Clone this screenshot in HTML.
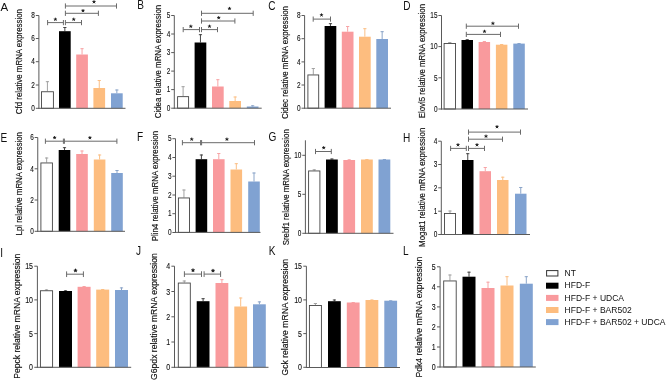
<!DOCTYPE html>
<html><head><meta charset="utf-8"><style>
html,body{margin:0;padding:0;background:#fff;}
body{width:669px;height:380px;overflow:hidden;}
svg{display:block;will-change:transform;}
text{font-family:"Liberation Sans",sans-serif;fill:#111111;}
.tk{font-size:8.5px;text-anchor:end;stroke:#111;stroke-width:0.12px;}
.yl{font-size:7.9px;stroke:#111;stroke-width:0.16px;}
.let{font-size:11.5px;}
.let.b{font-weight:bold;}
.let2{font-size:12.6px;}
.lg{font-size:8.8px;}
.st{font-size:7px;text-anchor:middle;font-weight:bold;}
</style></head><body>
<svg width="669" height="380" viewBox="0 0 669 380">
<text x="0.6" y="11.3" class="let">A</text>
<text class="yl" style="font-size:8.4px" transform="translate(22 114.2) rotate(-90) scale(0.94 1)">Cfd relative mRNA expression</text>
<line x1="47.42" y1="91.3" x2="47.42" y2="81.2" stroke="#a2a2a2" stroke-width="1"/>
<line x1="45.82" y1="81.7" x2="49.02" y2="81.7" stroke="#a2a2a2" stroke-width="1"/>
<rect x="41.45" y="91.75" width="11.95" height="16.55" fill="#fff" stroke="#444" stroke-width="0.9"/>
<line x1="64.85" y1="31.2" x2="64.85" y2="27" stroke="#444444" stroke-width="1"/>
<line x1="63.25" y1="27.5" x2="66.45" y2="27.5" stroke="#444444" stroke-width="1"/>
<rect x="59" y="31.2" width="11.7" height="77.1" fill="#000000"/>
<line x1="82.05" y1="54.5" x2="82.05" y2="48.2" stroke="#f7a4a6" stroke-width="1"/>
<line x1="80.45" y1="48.7" x2="83.65" y2="48.7" stroke="#f7a4a6" stroke-width="1"/>
<rect x="76.2" y="54.5" width="11.7" height="53.8" fill="#f99a9d"/>
<line x1="99.25" y1="88" x2="99.25" y2="80" stroke="#fbbf85" stroke-width="1"/>
<line x1="97.65" y1="80.5" x2="100.85" y2="80.5" stroke="#fbbf85" stroke-width="1"/>
<rect x="93.4" y="88" width="11.7" height="20.3" fill="#fdbd7f"/>
<line x1="116.85" y1="93.3" x2="116.85" y2="89.5" stroke="#8aa4c8" stroke-width="1"/>
<line x1="115.25" y1="90" x2="118.45" y2="90" stroke="#8aa4c8" stroke-width="1"/>
<rect x="111" y="93.3" width="11.7" height="15" fill="#80a2d2"/>
<line x1="38.9" y1="15.5" x2="38.9" y2="108.8" stroke="#5a5a5a" stroke-width="1"/>
<line x1="38.4" y1="108.3" x2="125.5" y2="108.3" stroke="#5a5a5a" stroke-width="1"/>
<line x1="35.8" y1="15.5" x2="38.9" y2="15.5" stroke="#5a5a5a" stroke-width="1"/>
<text class="tk" style="font-size:8.5px" transform="translate(34.9 18.24) scale(0.76 1)">8</text>
<line x1="35.8" y1="38.5" x2="38.9" y2="38.5" stroke="#5a5a5a" stroke-width="1"/>
<text class="tk" style="font-size:8.5px" transform="translate(34.9 41.24) scale(0.76 1)">6</text>
<line x1="35.8" y1="61.7" x2="38.9" y2="61.7" stroke="#5a5a5a" stroke-width="1"/>
<text class="tk" style="font-size:8.5px" transform="translate(34.9 64.44) scale(0.76 1)">4</text>
<line x1="35.8" y1="85" x2="38.9" y2="85" stroke="#5a5a5a" stroke-width="1"/>
<text class="tk" style="font-size:8.5px" transform="translate(34.9 87.74) scale(0.76 1)">2</text>
<line x1="35.8" y1="108.3" x2="38.9" y2="108.3" stroke="#5a5a5a" stroke-width="1"/>
<text class="tk" style="font-size:8.5px" transform="translate(34.9 111.04) scale(0.76 1)">0</text>
<path d="M47.6 20V25.2M47.6 22.6H63.4M63.4 20V25.2" stroke="#6a6a6a" stroke-width="1" fill="none"/>
<path d="M55.4 19.4L55.4 18.1M55.4 19.4L56.64 19M55.4 19.4L56.16 20.45M55.4 19.4L54.64 20.45M55.4 19.4L54.16 19" stroke="#1a1a1a" stroke-width="0.95" stroke-linecap="round" fill="none"/>
<path d="M65.4 20V25.2M65.4 22.6H81.5M81.5 20V25.2" stroke="#6a6a6a" stroke-width="1" fill="none"/>
<path d="M73.7 19.4L73.7 18.1M73.7 19.4L74.94 19M73.7 19.4L74.46 20.45M73.7 19.4L72.94 20.45M73.7 19.4L72.46 19" stroke="#1a1a1a" stroke-width="0.95" stroke-linecap="round" fill="none"/>
<path d="M65.4 10.7V15.9M65.4 13.3H98.4M98.4 10.7V15.9" stroke="#6a6a6a" stroke-width="1" fill="none"/>
<path d="M83 10.7L83 9.4M83 10.7L84.24 10.3M83 10.7L83.76 11.75M83 10.7L82.24 11.75M83 10.7L81.76 10.3" stroke="#1a1a1a" stroke-width="0.95" stroke-linecap="round" fill="none"/>
<path d="M65.4 3.4V8.6M65.4 6H116.5M116.5 3.4V8.6" stroke="#6a6a6a" stroke-width="1" fill="none"/>
<path d="M94 1.9L94 0.6M94 1.9L95.24 1.5M94 1.9L94.76 2.95M94 1.9L93.24 2.95M94 1.9L92.76 1.5" stroke="#1a1a1a" stroke-width="0.95" stroke-linecap="round" fill="none"/>
<text class="let2" transform="translate(137.2 9.4) scale(0.8 1)">B</text>
<text class="yl" style="font-size:8.4px" transform="translate(161.2 118.3) rotate(-90) scale(0.94 1)">Cidea relative mRNA expression</text>
<line x1="183.1" y1="96.2" x2="183.1" y2="86.2" stroke="#a2a2a2" stroke-width="1"/>
<line x1="181.5" y1="86.7" x2="184.7" y2="86.7" stroke="#a2a2a2" stroke-width="1"/>
<rect x="177.6" y="96.65" width="11" height="11.55" fill="#fff" stroke="#444" stroke-width="0.9"/>
<line x1="200.45" y1="42.5" x2="200.45" y2="34.2" stroke="#444444" stroke-width="1"/>
<line x1="198.85" y1="34.7" x2="202.05" y2="34.7" stroke="#444444" stroke-width="1"/>
<rect x="194.6" y="42.5" width="11.7" height="65.7" fill="#000000"/>
<line x1="217.85" y1="86.5" x2="217.85" y2="79.2" stroke="#f7a4a6" stroke-width="1"/>
<line x1="216.25" y1="79.7" x2="219.45" y2="79.7" stroke="#f7a4a6" stroke-width="1"/>
<rect x="212" y="86.5" width="11.7" height="21.7" fill="#f99a9d"/>
<line x1="235.15" y1="101" x2="235.15" y2="96.5" stroke="#fbbf85" stroke-width="1"/>
<line x1="233.55" y1="97" x2="236.75" y2="97" stroke="#fbbf85" stroke-width="1"/>
<rect x="229.3" y="101" width="11.7" height="7.2" fill="#fdbd7f"/>
<line x1="252.65" y1="106.5" x2="252.65" y2="105.3" stroke="#8aa4c8" stroke-width="1"/>
<line x1="251.05" y1="105.8" x2="254.25" y2="105.8" stroke="#8aa4c8" stroke-width="1"/>
<rect x="246.8" y="106.5" width="11.7" height="1.7" fill="#80a2d2"/>
<line x1="174.3" y1="15.5" x2="174.3" y2="108.7" stroke="#5a5a5a" stroke-width="1"/>
<line x1="173.8" y1="108.2" x2="261.7" y2="108.2" stroke="#5a5a5a" stroke-width="1"/>
<line x1="171.2" y1="15.5" x2="174.3" y2="15.5" stroke="#5a5a5a" stroke-width="1"/>
<text class="tk" style="font-size:8.5px" transform="translate(170.3 18.24) scale(0.76 1)">5</text>
<line x1="171.2" y1="34" x2="174.3" y2="34" stroke="#5a5a5a" stroke-width="1"/>
<text class="tk" style="font-size:8.5px" transform="translate(170.3 36.74) scale(0.76 1)">4</text>
<line x1="171.2" y1="52.6" x2="174.3" y2="52.6" stroke="#5a5a5a" stroke-width="1"/>
<text class="tk" style="font-size:8.5px" transform="translate(170.3 55.34) scale(0.76 1)">3</text>
<line x1="171.2" y1="71.1" x2="174.3" y2="71.1" stroke="#5a5a5a" stroke-width="1"/>
<text class="tk" style="font-size:8.5px" transform="translate(170.3 73.84) scale(0.76 1)">2</text>
<line x1="171.2" y1="89.6" x2="174.3" y2="89.6" stroke="#5a5a5a" stroke-width="1"/>
<text class="tk" style="font-size:8.5px" transform="translate(170.3 92.34) scale(0.76 1)">1</text>
<line x1="171.2" y1="108.2" x2="174.3" y2="108.2" stroke="#5a5a5a" stroke-width="1"/>
<text class="tk" style="font-size:8.5px" transform="translate(170.3 110.94) scale(0.76 1)">0</text>
<path d="M183.2 27V32.2M183.2 29.6H199.5M199.5 27V32.2" stroke="#6a6a6a" stroke-width="1" fill="none"/>
<path d="M190.8 26.4L190.8 25.1M190.8 26.4L192.04 26M190.8 26.4L191.56 27.45M190.8 26.4L190.04 27.45M190.8 26.4L189.56 26" stroke="#1a1a1a" stroke-width="0.95" stroke-linecap="round" fill="none"/>
<path d="M201.5 27V32.2M201.5 29.6H217.5M217.5 27V32.2" stroke="#6a6a6a" stroke-width="1" fill="none"/>
<path d="M209.5 26.4L209.5 25.1M209.5 26.4L210.74 26M209.5 26.4L210.26 27.45M209.5 26.4L208.74 27.45M209.5 26.4L208.26 26" stroke="#1a1a1a" stroke-width="0.95" stroke-linecap="round" fill="none"/>
<path d="M201.5 18.4V23.6M201.5 21H234.9M234.9 18.4V23.6" stroke="#6a6a6a" stroke-width="1" fill="none"/>
<path d="M218.7 17.8L218.7 16.5M218.7 17.8L219.94 17.4M218.7 17.8L219.46 18.85M218.7 17.8L217.94 18.85M218.7 17.8L217.46 17.4" stroke="#1a1a1a" stroke-width="0.95" stroke-linecap="round" fill="none"/>
<path d="M201.5 10.7V15.9M201.5 13.3H253.2M253.2 10.7V15.9" stroke="#6a6a6a" stroke-width="1" fill="none"/>
<path d="M229.5 8.6L229.5 7.3M229.5 8.6L230.74 8.2M229.5 8.6L230.26 9.65M229.5 8.6L228.74 9.65M229.5 8.6L228.26 8.2" stroke="#1a1a1a" stroke-width="0.95" stroke-linecap="round" fill="none"/>
<text class="let2" transform="translate(268.2 10.4) scale(0.8 1)">C</text>
<text class="yl" style="font-size:8.4px" transform="translate(287.6 119.1) rotate(-90) scale(0.94 1)">Cidec relative mRNA expression</text>
<line x1="313.3" y1="74.5" x2="313.3" y2="68" stroke="#a2a2a2" stroke-width="1"/>
<line x1="311.7" y1="68.5" x2="314.9" y2="68.5" stroke="#a2a2a2" stroke-width="1"/>
<rect x="307.9" y="74.95" width="10.8" height="33.25" fill="#fff" stroke="#444" stroke-width="0.9"/>
<line x1="330.45" y1="26" x2="330.45" y2="23.2" stroke="#444444" stroke-width="1"/>
<line x1="328.85" y1="23.7" x2="332.05" y2="23.7" stroke="#444444" stroke-width="1"/>
<rect x="324.6" y="26" width="11.7" height="82.2" fill="#000000"/>
<line x1="347.65" y1="31.7" x2="347.65" y2="26" stroke="#f7a4a6" stroke-width="1"/>
<line x1="346.05" y1="26.5" x2="349.25" y2="26.5" stroke="#f7a4a6" stroke-width="1"/>
<rect x="341.8" y="31.7" width="11.7" height="76.5" fill="#f99a9d"/>
<line x1="364.85" y1="36.7" x2="364.85" y2="28.2" stroke="#fbbf85" stroke-width="1"/>
<line x1="363.25" y1="28.7" x2="366.45" y2="28.7" stroke="#fbbf85" stroke-width="1"/>
<rect x="359" y="36.7" width="11.7" height="71.5" fill="#fdbd7f"/>
<line x1="382.15" y1="39" x2="382.15" y2="31.2" stroke="#8aa4c8" stroke-width="1"/>
<line x1="380.55" y1="31.7" x2="383.75" y2="31.7" stroke="#8aa4c8" stroke-width="1"/>
<rect x="376.3" y="39" width="11.7" height="69.2" fill="#80a2d2"/>
<line x1="304.6" y1="15.5" x2="304.6" y2="108.7" stroke="#5a5a5a" stroke-width="1"/>
<line x1="304.1" y1="108.2" x2="391" y2="108.2" stroke="#5a5a5a" stroke-width="1"/>
<line x1="301.5" y1="15.5" x2="304.6" y2="15.5" stroke="#5a5a5a" stroke-width="1"/>
<text class="tk" style="font-size:8.5px" transform="translate(300.6 18.24) scale(0.76 1)">8</text>
<line x1="301.5" y1="38.7" x2="304.6" y2="38.7" stroke="#5a5a5a" stroke-width="1"/>
<text class="tk" style="font-size:8.5px" transform="translate(300.6 41.44) scale(0.76 1)">6</text>
<line x1="301.5" y1="61.9" x2="304.6" y2="61.9" stroke="#5a5a5a" stroke-width="1"/>
<text class="tk" style="font-size:8.5px" transform="translate(300.6 64.64) scale(0.76 1)">4</text>
<line x1="301.5" y1="85" x2="304.6" y2="85" stroke="#5a5a5a" stroke-width="1"/>
<text class="tk" style="font-size:8.5px" transform="translate(300.6 87.74) scale(0.76 1)">2</text>
<line x1="301.5" y1="108.2" x2="304.6" y2="108.2" stroke="#5a5a5a" stroke-width="1"/>
<text class="tk" style="font-size:8.5px" transform="translate(300.6 110.94) scale(0.76 1)">0</text>
<path d="M313.2 16.5V21.7M313.2 19.1H330.5M330.5 16.5V21.7" stroke="#6a6a6a" stroke-width="1" fill="none"/>
<path d="M321.5 15.1L321.5 13.8M321.5 15.1L322.74 14.7M321.5 15.1L322.26 16.15M321.5 15.1L320.74 16.15M321.5 15.1L320.26 14.7" stroke="#1a1a1a" stroke-width="0.95" stroke-linecap="round" fill="none"/>
<text class="let2" transform="translate(403.2 9.7) scale(0.8 1)">D</text>
<text class="yl" style="font-size:8.4px" transform="translate(424.8 118.3) rotate(-90) scale(0.94 1)">Elovl5 relative mRNA expression</text>
<line x1="449.8" y1="43" x2="449.8" y2="42" stroke="#a2a2a2" stroke-width="1"/>
<line x1="448.2" y1="42.5" x2="451.4" y2="42.5" stroke="#a2a2a2" stroke-width="1"/>
<rect x="444.1" y="43.45" width="11.4" height="65.55" fill="#fff" stroke="#444" stroke-width="0.9"/>
<line x1="467.25" y1="40" x2="467.25" y2="39.2" stroke="#444444" stroke-width="1"/>
<line x1="465.65" y1="39.7" x2="468.85" y2="39.7" stroke="#444444" stroke-width="1"/>
<rect x="461.5" y="40" width="11.5" height="69" fill="#000000"/>
<line x1="484.35" y1="42" x2="484.35" y2="41" stroke="#f7a4a6" stroke-width="1"/>
<line x1="482.75" y1="41.5" x2="485.95" y2="41.5" stroke="#f7a4a6" stroke-width="1"/>
<rect x="478.6" y="42" width="11.5" height="67" fill="#f99a9d"/>
<line x1="501.65" y1="44.7" x2="501.65" y2="44" stroke="#fbbf85" stroke-width="1"/>
<line x1="500.05" y1="44.5" x2="503.25" y2="44.5" stroke="#fbbf85" stroke-width="1"/>
<rect x="495.9" y="44.7" width="11.5" height="64.3" fill="#fdbd7f"/>
<line x1="519.05" y1="43.6" x2="519.05" y2="43" stroke="#8aa4c8" stroke-width="1"/>
<line x1="517.45" y1="43.5" x2="520.65" y2="43.5" stroke="#8aa4c8" stroke-width="1"/>
<rect x="513.3" y="43.6" width="11.5" height="65.4" fill="#80a2d2"/>
<line x1="441.5" y1="15.5" x2="441.5" y2="109.5" stroke="#5a5a5a" stroke-width="1"/>
<line x1="441" y1="109" x2="528" y2="109" stroke="#5a5a5a" stroke-width="1"/>
<line x1="438.4" y1="15.5" x2="441.5" y2="15.5" stroke="#5a5a5a" stroke-width="1"/>
<text class="tk" style="font-size:8.5px" transform="translate(437.5 18.24) scale(0.76 1)">15</text>
<line x1="438.4" y1="46.6" x2="441.5" y2="46.6" stroke="#5a5a5a" stroke-width="1"/>
<text class="tk" style="font-size:8.5px" transform="translate(437.5 49.34) scale(0.76 1)">10</text>
<line x1="438.4" y1="77.8" x2="441.5" y2="77.8" stroke="#5a5a5a" stroke-width="1"/>
<text class="tk" style="font-size:8.5px" transform="translate(437.5 80.54) scale(0.76 1)">5</text>
<line x1="438.4" y1="109" x2="441.5" y2="109" stroke="#5a5a5a" stroke-width="1"/>
<text class="tk" style="font-size:8.5px" transform="translate(437.5 111.74) scale(0.76 1)">0</text>
<path d="M466.3 31.8V37M466.3 34.4H500.5M500.5 31.8V37" stroke="#6a6a6a" stroke-width="1" fill="none"/>
<path d="M484.5 31.5L484.5 30.2M484.5 31.5L485.74 31.1M484.5 31.5L485.26 32.55M484.5 31.5L483.74 32.55M484.5 31.5L483.26 31.1" stroke="#1a1a1a" stroke-width="0.95" stroke-linecap="round" fill="none"/>
<path d="M466.3 23.6V28.8M466.3 26.2H518.5M518.5 23.6V28.8" stroke="#6a6a6a" stroke-width="1" fill="none"/>
<path d="M492.9 23.4L492.9 22.1M492.9 23.4L494.14 23M492.9 23.4L493.66 24.45M492.9 23.4L492.14 24.45M492.9 23.4L491.66 23" stroke="#1a1a1a" stroke-width="0.95" stroke-linecap="round" fill="none"/>
<text class="let2" transform="translate(0.6 142.4) scale(0.8 1)">E</text>
<text class="yl" style="font-size:8.4px" transform="translate(21.8 235.5) rotate(-90) scale(0.94 1)">Lpl relative mRNA expression</text>
<line x1="46.65" y1="162.5" x2="46.65" y2="157.5" stroke="#a2a2a2" stroke-width="1"/>
<line x1="45.05" y1="158" x2="48.25" y2="158" stroke="#a2a2a2" stroke-width="1"/>
<rect x="40.9" y="162.95" width="11.5" height="68.35" fill="#fff" stroke="#444" stroke-width="0.9"/>
<line x1="64.5" y1="150" x2="64.5" y2="147.2" stroke="#444444" stroke-width="1"/>
<line x1="62.9" y1="147.7" x2="66.1" y2="147.7" stroke="#444444" stroke-width="1"/>
<rect x="58.7" y="150" width="11.6" height="81.3" fill="#000000"/>
<line x1="82" y1="154" x2="82" y2="150.5" stroke="#f7a4a6" stroke-width="1"/>
<line x1="80.4" y1="151" x2="83.6" y2="151" stroke="#f7a4a6" stroke-width="1"/>
<rect x="76.2" y="154" width="11.6" height="77.3" fill="#f99a9d"/>
<line x1="99.6" y1="159.5" x2="99.6" y2="154.5" stroke="#fbbf85" stroke-width="1"/>
<line x1="98" y1="155" x2="101.2" y2="155" stroke="#fbbf85" stroke-width="1"/>
<rect x="93.8" y="159.5" width="11.6" height="71.8" fill="#fdbd7f"/>
<line x1="117" y1="173" x2="117" y2="170" stroke="#8aa4c8" stroke-width="1"/>
<line x1="115.4" y1="170.5" x2="118.6" y2="170.5" stroke="#8aa4c8" stroke-width="1"/>
<rect x="111.2" y="173" width="11.6" height="58.3" fill="#80a2d2"/>
<line x1="37.75" y1="137.5" x2="37.75" y2="231.8" stroke="#5a5a5a" stroke-width="1"/>
<line x1="37.25" y1="231.3" x2="125" y2="231.3" stroke="#5a5a5a" stroke-width="1"/>
<line x1="34.65" y1="137.5" x2="37.75" y2="137.5" stroke="#5a5a5a" stroke-width="1"/>
<text class="tk" style="font-size:8.5px" transform="translate(33.75 140.24) scale(0.76 1)">6</text>
<line x1="34.65" y1="168.8" x2="37.75" y2="168.8" stroke="#5a5a5a" stroke-width="1"/>
<text class="tk" style="font-size:8.5px" transform="translate(33.75 171.54) scale(0.76 1)">4</text>
<line x1="34.65" y1="200" x2="37.75" y2="200" stroke="#5a5a5a" stroke-width="1"/>
<text class="tk" style="font-size:8.5px" transform="translate(33.75 202.74) scale(0.76 1)">2</text>
<line x1="34.65" y1="231.3" x2="37.75" y2="231.3" stroke="#5a5a5a" stroke-width="1"/>
<text class="tk" style="font-size:8.5px" transform="translate(33.75 234.04) scale(0.76 1)">0</text>
<path d="M45.4 138.6V143.8M45.4 141.2H63.4M63.4 138.6V143.8" stroke="#6a6a6a" stroke-width="1" fill="none"/>
<path d="M54.6 137.7L54.6 136.4M54.6 137.7L55.84 137.3M54.6 137.7L55.36 138.75M54.6 137.7L53.84 138.75M54.6 137.7L53.36 137.3" stroke="#1a1a1a" stroke-width="0.95" stroke-linecap="round" fill="none"/>
<path d="M64.4 138.6V143.8M64.4 141.2H116.9M116.9 138.6V143.8" stroke="#6a6a6a" stroke-width="1" fill="none"/>
<path d="M89.9 137.8L89.9 136.5M89.9 137.8L91.14 137.4M89.9 137.8L90.66 138.85M89.9 137.8L89.14 138.85M89.9 137.8L88.66 137.4" stroke="#1a1a1a" stroke-width="0.95" stroke-linecap="round" fill="none"/>
<text class="let2" transform="translate(136.9 140.6) scale(0.8 1)">F</text>
<text class="yl" style="font-size:8.4px" transform="translate(158 241.3) rotate(-90) scale(0.94 1)">Plin4 relative mRNA expression</text>
<line x1="183.95" y1="197.5" x2="183.95" y2="189.5" stroke="#a2a2a2" stroke-width="1"/>
<line x1="182.35" y1="190" x2="185.55" y2="190" stroke="#a2a2a2" stroke-width="1"/>
<rect x="178.4" y="197.95" width="11.1" height="34.45" fill="#fff" stroke="#444" stroke-width="0.9"/>
<line x1="201.4" y1="159.2" x2="201.4" y2="154.5" stroke="#444444" stroke-width="1"/>
<line x1="199.8" y1="155" x2="203" y2="155" stroke="#444444" stroke-width="1"/>
<rect x="195.6" y="159.2" width="11.6" height="73.2" fill="#000000"/>
<line x1="218.8" y1="159.2" x2="218.8" y2="153" stroke="#f7a4a6" stroke-width="1"/>
<line x1="217.2" y1="153.5" x2="220.4" y2="153.5" stroke="#f7a4a6" stroke-width="1"/>
<rect x="213" y="159.2" width="11.6" height="73.2" fill="#f99a9d"/>
<line x1="236.3" y1="169.5" x2="236.3" y2="163.2" stroke="#fbbf85" stroke-width="1"/>
<line x1="234.7" y1="163.7" x2="237.9" y2="163.7" stroke="#fbbf85" stroke-width="1"/>
<rect x="230.5" y="169.5" width="11.6" height="62.9" fill="#fdbd7f"/>
<line x1="254" y1="181.5" x2="254" y2="172.5" stroke="#8aa4c8" stroke-width="1"/>
<line x1="252.4" y1="173" x2="255.6" y2="173" stroke="#8aa4c8" stroke-width="1"/>
<rect x="248.2" y="181.5" width="11.6" height="50.9" fill="#80a2d2"/>
<line x1="175.5" y1="138.7" x2="175.5" y2="232.9" stroke="#5a5a5a" stroke-width="1"/>
<line x1="175" y1="232.4" x2="260.5" y2="232.4" stroke="#5a5a5a" stroke-width="1"/>
<line x1="172.4" y1="138.7" x2="175.5" y2="138.7" stroke="#5a5a5a" stroke-width="1"/>
<text class="tk" style="font-size:8.5px" transform="translate(171.5 141.44) scale(0.76 1)">5</text>
<line x1="172.4" y1="157.5" x2="175.5" y2="157.5" stroke="#5a5a5a" stroke-width="1"/>
<text class="tk" style="font-size:8.5px" transform="translate(171.5 160.24) scale(0.76 1)">4</text>
<line x1="172.4" y1="176.2" x2="175.5" y2="176.2" stroke="#5a5a5a" stroke-width="1"/>
<text class="tk" style="font-size:8.5px" transform="translate(171.5 178.94) scale(0.76 1)">3</text>
<line x1="172.4" y1="195" x2="175.5" y2="195" stroke="#5a5a5a" stroke-width="1"/>
<text class="tk" style="font-size:8.5px" transform="translate(171.5 197.74) scale(0.76 1)">2</text>
<line x1="172.4" y1="213.7" x2="175.5" y2="213.7" stroke="#5a5a5a" stroke-width="1"/>
<text class="tk" style="font-size:8.5px" transform="translate(171.5 216.44) scale(0.76 1)">1</text>
<line x1="172.4" y1="232.5" x2="175.5" y2="232.5" stroke="#5a5a5a" stroke-width="1"/>
<text class="tk" style="font-size:8.5px" transform="translate(171.5 235.24) scale(0.76 1)">0</text>
<path d="M182.4 140.1V145.3M182.4 142.7H200.6M200.6 140.1V145.3" stroke="#6a6a6a" stroke-width="1" fill="none"/>
<path d="M191.7 139.3L191.7 138M191.7 139.3L192.94 138.9M191.7 139.3L192.46 140.35M191.7 139.3L190.94 140.35M191.7 139.3L190.46 138.9" stroke="#1a1a1a" stroke-width="0.95" stroke-linecap="round" fill="none"/>
<path d="M201.6 140.1V145.3M201.6 142.7H254.5M254.5 140.1V145.3" stroke="#6a6a6a" stroke-width="1" fill="none"/>
<path d="M226.9 139.3L226.9 138M226.9 139.3L228.14 138.9M226.9 139.3L227.66 140.35M226.9 139.3L226.14 140.35M226.9 139.3L225.66 138.9" stroke="#1a1a1a" stroke-width="0.95" stroke-linecap="round" fill="none"/>
<text class="let2" transform="translate(268.6 141.4) scale(0.8 1)">G</text>
<text class="yl" style="font-size:8.4px" transform="translate(289 245.3) rotate(-90) scale(0.94 1)">Srebf1 relative mRNA expression</text>
<line x1="314.25" y1="170.5" x2="314.25" y2="169.3" stroke="#a2a2a2" stroke-width="1"/>
<line x1="312.65" y1="169.8" x2="315.85" y2="169.8" stroke="#a2a2a2" stroke-width="1"/>
<rect x="308.6" y="170.95" width="11.3" height="62.35" fill="#fff" stroke="#444" stroke-width="0.9"/>
<line x1="331.9" y1="159.5" x2="331.9" y2="158.5" stroke="#444444" stroke-width="1"/>
<line x1="330.3" y1="159" x2="333.5" y2="159" stroke="#444444" stroke-width="1"/>
<rect x="326" y="159.5" width="11.8" height="73.8" fill="#000000"/>
<line x1="349.2" y1="160" x2="349.2" y2="159.3" stroke="#f7a4a6" stroke-width="1"/>
<line x1="347.6" y1="159.8" x2="350.8" y2="159.8" stroke="#f7a4a6" stroke-width="1"/>
<rect x="343.3" y="160" width="11.8" height="73.3" fill="#f99a9d"/>
<line x1="366.9" y1="159.5" x2="366.9" y2="159" stroke="#fbbf85" stroke-width="1"/>
<line x1="365.3" y1="159.5" x2="368.5" y2="159.5" stroke="#fbbf85" stroke-width="1"/>
<rect x="361" y="159.5" width="11.8" height="73.8" fill="#fdbd7f"/>
<line x1="384.4" y1="159.5" x2="384.4" y2="159" stroke="#8aa4c8" stroke-width="1"/>
<line x1="382.8" y1="159.5" x2="386" y2="159.5" stroke="#8aa4c8" stroke-width="1"/>
<rect x="378.5" y="159.5" width="11.8" height="73.8" fill="#80a2d2"/>
<line x1="305.4" y1="140.3" x2="305.4" y2="233.8" stroke="#5a5a5a" stroke-width="1"/>
<line x1="304.9" y1="233.3" x2="393.5" y2="233.3" stroke="#5a5a5a" stroke-width="1"/>
<line x1="302.3" y1="155.3" x2="305.4" y2="155.3" stroke="#5a5a5a" stroke-width="1"/>
<text class="tk" style="font-size:8.5px" transform="translate(301.4 158.04) scale(0.76 1)">10</text>
<line x1="302.3" y1="194.3" x2="305.4" y2="194.3" stroke="#5a5a5a" stroke-width="1"/>
<text class="tk" style="font-size:8.5px" transform="translate(301.4 197.04) scale(0.76 1)">5</text>
<line x1="302.3" y1="233.3" x2="305.4" y2="233.3" stroke="#5a5a5a" stroke-width="1"/>
<text class="tk" style="font-size:8.5px" transform="translate(301.4 236.04) scale(0.76 1)">0</text>
<path d="M315.5 148.9V154.1M315.5 151.5H331.3M331.3 148.9V154.1" stroke="#6a6a6a" stroke-width="1" fill="none"/>
<path d="M323.7 147.8L323.7 146.5M323.7 147.8L324.94 147.4M323.7 147.8L324.46 148.85M323.7 147.8L322.94 148.85M323.7 147.8L322.46 147.4" stroke="#1a1a1a" stroke-width="0.95" stroke-linecap="round" fill="none"/>
<text class="let2" transform="translate(403 141.5) scale(0.8 1)">H</text>
<text class="yl" style="font-size:8.4px" transform="translate(425 246.9) rotate(-90) scale(0.94 1)">Mogat1 relative mRNA expression</text>
<line x1="450" y1="213" x2="450" y2="210.5" stroke="#a2a2a2" stroke-width="1"/>
<line x1="448.4" y1="211" x2="451.6" y2="211" stroke="#a2a2a2" stroke-width="1"/>
<rect x="444.5" y="213.45" width="11" height="21.05" fill="#fff" stroke="#444" stroke-width="0.9"/>
<line x1="467.75" y1="160" x2="467.75" y2="153.2" stroke="#444444" stroke-width="1"/>
<line x1="466.15" y1="153.7" x2="469.35" y2="153.7" stroke="#444444" stroke-width="1"/>
<rect x="462" y="160" width="11.5" height="74.5" fill="#000000"/>
<line x1="485.25" y1="171.2" x2="485.25" y2="167" stroke="#f7a4a6" stroke-width="1"/>
<line x1="483.65" y1="167.5" x2="486.85" y2="167.5" stroke="#f7a4a6" stroke-width="1"/>
<rect x="479.5" y="171.2" width="11.5" height="63.3" fill="#f99a9d"/>
<line x1="502.75" y1="180" x2="502.75" y2="176.7" stroke="#fbbf85" stroke-width="1"/>
<line x1="501.15" y1="177.2" x2="504.35" y2="177.2" stroke="#fbbf85" stroke-width="1"/>
<rect x="497" y="180" width="11.5" height="54.5" fill="#fdbd7f"/>
<line x1="520.75" y1="193.7" x2="520.75" y2="187" stroke="#8aa4c8" stroke-width="1"/>
<line x1="519.15" y1="187.5" x2="522.35" y2="187.5" stroke="#8aa4c8" stroke-width="1"/>
<rect x="515" y="193.7" width="11.5" height="40.8" fill="#80a2d2"/>
<line x1="441.3" y1="141.2" x2="441.3" y2="235" stroke="#5a5a5a" stroke-width="1"/>
<line x1="440.8" y1="234.5" x2="530" y2="234.5" stroke="#5a5a5a" stroke-width="1"/>
<line x1="438.2" y1="141.2" x2="441.3" y2="141.2" stroke="#5a5a5a" stroke-width="1"/>
<text class="tk" style="font-size:8.5px" transform="translate(437.3 143.94) scale(0.76 1)">4</text>
<line x1="438.2" y1="164.5" x2="441.3" y2="164.5" stroke="#5a5a5a" stroke-width="1"/>
<text class="tk" style="font-size:8.5px" transform="translate(437.3 167.24) scale(0.76 1)">3</text>
<line x1="438.2" y1="187.8" x2="441.3" y2="187.8" stroke="#5a5a5a" stroke-width="1"/>
<text class="tk" style="font-size:8.5px" transform="translate(437.3 190.54) scale(0.76 1)">2</text>
<line x1="438.2" y1="211.2" x2="441.3" y2="211.2" stroke="#5a5a5a" stroke-width="1"/>
<text class="tk" style="font-size:8.5px" transform="translate(437.3 213.94) scale(0.76 1)">1</text>
<line x1="438.2" y1="234.5" x2="441.3" y2="234.5" stroke="#5a5a5a" stroke-width="1"/>
<text class="tk" style="font-size:8.5px" transform="translate(437.3 237.24) scale(0.76 1)">0</text>
<path d="M450.6 145.8V151M450.6 148.4H466.3M466.3 145.8V151" stroke="#6a6a6a" stroke-width="1" fill="none"/>
<path d="M458 144.9L458 143.6M458 144.9L459.24 144.5M458 144.9L458.76 145.95M458 144.9L457.24 145.95M458 144.9L456.76 144.5" stroke="#1a1a1a" stroke-width="0.95" stroke-linecap="round" fill="none"/>
<path d="M468.5 145.8V151M468.5 148.4H484.5M484.5 145.8V151" stroke="#6a6a6a" stroke-width="1" fill="none"/>
<path d="M477 144.9L477 143.6M477 144.9L478.24 144.5M477 144.9L477.76 145.95M477 144.9L476.24 145.95M477 144.9L475.76 144.5" stroke="#1a1a1a" stroke-width="0.95" stroke-linecap="round" fill="none"/>
<path d="M468.5 136.6V141.8M468.5 139.2H502.5M502.5 136.6V141.8" stroke="#6a6a6a" stroke-width="1" fill="none"/>
<path d="M486 136.3L486 135M486 136.3L487.24 135.9M486 136.3L486.76 137.35M486 136.3L485.24 137.35M486 136.3L484.76 135.9" stroke="#1a1a1a" stroke-width="0.95" stroke-linecap="round" fill="none"/>
<path d="M468.5 129.5V134.7M468.5 132.1H520.5M520.5 129.5V134.7" stroke="#6a6a6a" stroke-width="1" fill="none"/>
<path d="M497 126.8L497 125.5M497 126.8L498.24 126.4M497 126.8L497.76 127.85M497 126.8L496.24 127.85M497 126.8L495.76 126.4" stroke="#1a1a1a" stroke-width="0.95" stroke-linecap="round" fill="none"/>
<text class="let2" transform="translate(0.2 256.5) scale(0.8 1)">I</text>
<text class="yl" style="font-size:9.16px" transform="translate(19.6 378.8) rotate(-90) scale(0.94 1)">Pepck relative mRNA expression</text>
<line x1="46.5" y1="290.3" x2="46.5" y2="289.4" stroke="#a2a2a2" stroke-width="1"/>
<line x1="44.9" y1="289.9" x2="48.1" y2="289.9" stroke="#a2a2a2" stroke-width="1"/>
<rect x="40.4" y="290.75" width="12.2" height="76.55" fill="#fff" stroke="#444" stroke-width="0.9"/>
<line x1="65.5" y1="291" x2="65.5" y2="290.3" stroke="#444444" stroke-width="1"/>
<line x1="63.9" y1="290.8" x2="67.1" y2="290.8" stroke="#444444" stroke-width="1"/>
<rect x="59" y="291" width="13" height="76.3" fill="#000000"/>
<line x1="84.1" y1="286.8" x2="84.1" y2="286" stroke="#f7a4a6" stroke-width="1"/>
<line x1="82.5" y1="286.5" x2="85.7" y2="286.5" stroke="#f7a4a6" stroke-width="1"/>
<rect x="77.6" y="286.8" width="13" height="80.5" fill="#f99a9d"/>
<line x1="102.7" y1="289.6" x2="102.7" y2="289" stroke="#fbbf85" stroke-width="1"/>
<line x1="101.1" y1="289.5" x2="104.3" y2="289.5" stroke="#fbbf85" stroke-width="1"/>
<rect x="96.2" y="289.6" width="13" height="77.7" fill="#fdbd7f"/>
<line x1="121.5" y1="290" x2="121.5" y2="287.4" stroke="#8aa4c8" stroke-width="1"/>
<line x1="119.9" y1="287.9" x2="123.1" y2="287.9" stroke="#8aa4c8" stroke-width="1"/>
<rect x="115" y="290" width="13" height="77.3" fill="#80a2d2"/>
<line x1="37.4" y1="266.2" x2="37.4" y2="367.8" stroke="#5a5a5a" stroke-width="1"/>
<line x1="36.9" y1="367.3" x2="131.2" y2="367.3" stroke="#5a5a5a" stroke-width="1"/>
<line x1="34.3" y1="266.2" x2="37.4" y2="266.2" stroke="#5a5a5a" stroke-width="1"/>
<text class="tk" style="font-size:9.27px" transform="translate(33.04 269.22) scale(0.76 1)">15</text>
<line x1="34.3" y1="299.9" x2="37.4" y2="299.9" stroke="#5a5a5a" stroke-width="1"/>
<text class="tk" style="font-size:9.27px" transform="translate(33.04 302.92) scale(0.76 1)">10</text>
<line x1="34.3" y1="333.6" x2="37.4" y2="333.6" stroke="#5a5a5a" stroke-width="1"/>
<text class="tk" style="font-size:9.27px" transform="translate(33.04 336.62) scale(0.76 1)">5</text>
<line x1="34.3" y1="367.3" x2="37.4" y2="367.3" stroke="#5a5a5a" stroke-width="1"/>
<text class="tk" style="font-size:9.27px" transform="translate(33.04 370.32) scale(0.76 1)">0</text>
<path d="M66.6 271.36V277.04M66.6 274.2H83.4M83.4 271.36V277.04" stroke="#6a6a6a" stroke-width="1" fill="none"/>
<path d="M75.5 270.5L75.5 269.08M75.5 270.5L76.85 270.06M75.5 270.5L76.33 271.65M75.5 270.5L74.67 271.65M75.5 270.5L74.15 270.06" stroke="#1a1a1a" stroke-width="1.04" stroke-linecap="round" fill="none"/>
<text class="let2" transform="translate(136 254.6) scale(0.8 1)">J</text>
<text class="yl" style="font-size:9.16px" transform="translate(157.2 379.9) rotate(-90) scale(0.94 1)">G6pdx relative mRNA expression</text>
<line x1="184.3" y1="282.6" x2="184.3" y2="280.5" stroke="#a2a2a2" stroke-width="1"/>
<line x1="182.7" y1="281" x2="185.9" y2="281" stroke="#a2a2a2" stroke-width="1"/>
<rect x="178.3" y="283.05" width="12" height="84.25" fill="#fff" stroke="#444" stroke-width="0.9"/>
<line x1="203.1" y1="301.2" x2="203.1" y2="298.2" stroke="#444444" stroke-width="1"/>
<line x1="201.5" y1="298.7" x2="204.7" y2="298.7" stroke="#444444" stroke-width="1"/>
<rect x="196.7" y="301.2" width="12.8" height="66.1" fill="#000000"/>
<line x1="221.9" y1="283" x2="221.9" y2="279.2" stroke="#f7a4a6" stroke-width="1"/>
<line x1="220.3" y1="279.7" x2="223.5" y2="279.7" stroke="#f7a4a6" stroke-width="1"/>
<rect x="215.5" y="283" width="12.8" height="84.3" fill="#f99a9d"/>
<line x1="240.7" y1="306.5" x2="240.7" y2="297.5" stroke="#fbbf85" stroke-width="1"/>
<line x1="239.1" y1="298" x2="242.3" y2="298" stroke="#fbbf85" stroke-width="1"/>
<rect x="234.3" y="306.5" width="12.8" height="60.8" fill="#fdbd7f"/>
<line x1="259.4" y1="304.3" x2="259.4" y2="301.4" stroke="#8aa4c8" stroke-width="1"/>
<line x1="257.8" y1="301.9" x2="261" y2="301.9" stroke="#8aa4c8" stroke-width="1"/>
<rect x="253" y="304.3" width="12.8" height="63" fill="#80a2d2"/>
<line x1="174.5" y1="266.2" x2="174.5" y2="367.8" stroke="#5a5a5a" stroke-width="1"/>
<line x1="174" y1="367.3" x2="268.5" y2="367.3" stroke="#5a5a5a" stroke-width="1"/>
<line x1="171.4" y1="266.2" x2="174.5" y2="266.2" stroke="#5a5a5a" stroke-width="1"/>
<text class="tk" style="font-size:9.27px" transform="translate(170.14 269.22) scale(0.76 1)">4</text>
<line x1="171.4" y1="291.5" x2="174.5" y2="291.5" stroke="#5a5a5a" stroke-width="1"/>
<text class="tk" style="font-size:9.27px" transform="translate(170.14 294.52) scale(0.76 1)">3</text>
<line x1="171.4" y1="316.8" x2="174.5" y2="316.8" stroke="#5a5a5a" stroke-width="1"/>
<text class="tk" style="font-size:9.27px" transform="translate(170.14 319.82) scale(0.76 1)">2</text>
<line x1="171.4" y1="342" x2="174.5" y2="342" stroke="#5a5a5a" stroke-width="1"/>
<text class="tk" style="font-size:9.27px" transform="translate(170.14 345.02) scale(0.76 1)">1</text>
<line x1="171.4" y1="367.3" x2="174.5" y2="367.3" stroke="#5a5a5a" stroke-width="1"/>
<text class="tk" style="font-size:9.27px" transform="translate(170.14 370.32) scale(0.76 1)">0</text>
<path d="M184.4 271.26V276.94M184.4 274.1H201.5M201.5 271.26V276.94" stroke="#6a6a6a" stroke-width="1" fill="none"/>
<path d="M193 270.2L193 268.78M193 270.2L194.35 269.76M193 270.2L193.83 271.35M193 270.2L192.17 271.35M193 270.2L191.65 269.76" stroke="#1a1a1a" stroke-width="1.04" stroke-linecap="round" fill="none"/>
<path d="M204.1 271.26V276.94M204.1 274.1H220.6M220.6 271.26V276.94" stroke="#6a6a6a" stroke-width="1" fill="none"/>
<path d="M213 270.6L213 269.18M213 270.6L214.35 270.16M213 270.6L213.83 271.75M213 270.6L212.17 271.75M213 270.6L211.65 270.16" stroke="#1a1a1a" stroke-width="1.04" stroke-linecap="round" fill="none"/>
<text class="let2" transform="translate(268.8 255.2) scale(0.8 1)">K</text>
<text class="yl" style="font-size:9.16px" transform="translate(288 375.5) rotate(-90) scale(0.94 1)">Gck relative mRNA expression</text>
<line x1="315.4" y1="305" x2="315.4" y2="303" stroke="#a2a2a2" stroke-width="1"/>
<line x1="313.8" y1="303.5" x2="317" y2="303.5" stroke="#a2a2a2" stroke-width="1"/>
<rect x="309.4" y="305.45" width="12" height="62.05" fill="#fff" stroke="#444" stroke-width="0.9"/>
<line x1="334.4" y1="301.2" x2="334.4" y2="299.5" stroke="#444444" stroke-width="1"/>
<line x1="332.8" y1="300" x2="336" y2="300" stroke="#444444" stroke-width="1"/>
<rect x="328" y="301.2" width="12.8" height="66.3" fill="#000000"/>
<line x1="353.2" y1="302.5" x2="353.2" y2="302" stroke="#f7a4a6" stroke-width="1"/>
<line x1="351.6" y1="302.5" x2="354.8" y2="302.5" stroke="#f7a4a6" stroke-width="1"/>
<rect x="346.8" y="302.5" width="12.8" height="65" fill="#f99a9d"/>
<line x1="371.9" y1="300" x2="371.9" y2="299.5" stroke="#fbbf85" stroke-width="1"/>
<line x1="370.3" y1="300" x2="373.5" y2="300" stroke="#fbbf85" stroke-width="1"/>
<rect x="365.5" y="300" width="12.8" height="67.5" fill="#fdbd7f"/>
<line x1="390.7" y1="300.7" x2="390.7" y2="300.3" stroke="#8aa4c8" stroke-width="1"/>
<line x1="389.1" y1="300.8" x2="392.3" y2="300.8" stroke="#8aa4c8" stroke-width="1"/>
<rect x="384.3" y="300.7" width="12.8" height="66.8" fill="#80a2d2"/>
<line x1="306.4" y1="266.2" x2="306.4" y2="368" stroke="#5a5a5a" stroke-width="1"/>
<line x1="305.9" y1="367.5" x2="400" y2="367.5" stroke="#5a5a5a" stroke-width="1"/>
<line x1="303.3" y1="266.2" x2="306.4" y2="266.2" stroke="#5a5a5a" stroke-width="1"/>
<text class="tk" style="font-size:9.27px" transform="translate(302.04 269.22) scale(0.76 1)">15</text>
<line x1="303.3" y1="299.9" x2="306.4" y2="299.9" stroke="#5a5a5a" stroke-width="1"/>
<text class="tk" style="font-size:9.27px" transform="translate(302.04 302.92) scale(0.76 1)">10</text>
<line x1="303.3" y1="333.6" x2="306.4" y2="333.6" stroke="#5a5a5a" stroke-width="1"/>
<text class="tk" style="font-size:9.27px" transform="translate(302.04 336.62) scale(0.76 1)">5</text>
<line x1="303.3" y1="367.3" x2="306.4" y2="367.3" stroke="#5a5a5a" stroke-width="1"/>
<text class="tk" style="font-size:9.27px" transform="translate(302.04 370.32) scale(0.76 1)">0</text>
<text class="let2" transform="translate(403.1 255.2) scale(0.8 1)">L</text>
<text class="yl" style="font-size:9.16px" transform="translate(421.8 377.6) rotate(-90) scale(0.94 1)">Pdk4 relative mRNA expression</text>
<line x1="449.95" y1="280.5" x2="449.95" y2="274.5" stroke="#a2a2a2" stroke-width="1"/>
<line x1="448.35" y1="275" x2="451.55" y2="275" stroke="#a2a2a2" stroke-width="1"/>
<rect x="443.7" y="280.95" width="12.5" height="86.05" fill="#fff" stroke="#444" stroke-width="0.9"/>
<line x1="469" y1="276.7" x2="469" y2="271.7" stroke="#444444" stroke-width="1"/>
<line x1="467.4" y1="272.2" x2="470.6" y2="272.2" stroke="#444444" stroke-width="1"/>
<rect x="462.5" y="276.7" width="13" height="90.3" fill="#000000"/>
<line x1="488" y1="288" x2="488" y2="281.7" stroke="#f7a4a6" stroke-width="1"/>
<line x1="486.4" y1="282.2" x2="489.6" y2="282.2" stroke="#f7a4a6" stroke-width="1"/>
<rect x="481.5" y="288" width="13" height="79" fill="#f99a9d"/>
<line x1="507" y1="285.5" x2="507" y2="276.2" stroke="#fbbf85" stroke-width="1"/>
<line x1="505.4" y1="276.7" x2="508.6" y2="276.7" stroke="#fbbf85" stroke-width="1"/>
<rect x="500.5" y="285.5" width="13" height="81.5" fill="#fdbd7f"/>
<line x1="526.3" y1="283.7" x2="526.3" y2="276.2" stroke="#8aa4c8" stroke-width="1"/>
<line x1="524.7" y1="276.7" x2="527.9" y2="276.7" stroke="#8aa4c8" stroke-width="1"/>
<rect x="519.8" y="283.7" width="13" height="83.3" fill="#80a2d2"/>
<line x1="440.1" y1="266.8" x2="440.1" y2="367.5" stroke="#5a5a5a" stroke-width="1"/>
<line x1="439.6" y1="367" x2="535.8" y2="367" stroke="#5a5a5a" stroke-width="1"/>
<line x1="437" y1="266.8" x2="440.1" y2="266.8" stroke="#5a5a5a" stroke-width="1"/>
<text class="tk" style="font-size:9.27px" transform="translate(435.74 269.82) scale(0.76 1)">5</text>
<line x1="437" y1="286.8" x2="440.1" y2="286.8" stroke="#5a5a5a" stroke-width="1"/>
<text class="tk" style="font-size:9.27px" transform="translate(435.74 289.82) scale(0.76 1)">4</text>
<line x1="437" y1="306.9" x2="440.1" y2="306.9" stroke="#5a5a5a" stroke-width="1"/>
<text class="tk" style="font-size:9.27px" transform="translate(435.74 309.92) scale(0.76 1)">3</text>
<line x1="437" y1="326.9" x2="440.1" y2="326.9" stroke="#5a5a5a" stroke-width="1"/>
<text class="tk" style="font-size:9.27px" transform="translate(435.74 329.92) scale(0.76 1)">2</text>
<line x1="437" y1="347" x2="440.1" y2="347" stroke="#5a5a5a" stroke-width="1"/>
<text class="tk" style="font-size:9.27px" transform="translate(435.74 350.02) scale(0.76 1)">1</text>
<line x1="437" y1="367" x2="440.1" y2="367" stroke="#5a5a5a" stroke-width="1"/>
<text class="tk" style="font-size:9.27px" transform="translate(435.74 370.02) scale(0.76 1)">0</text>
<rect x="546.6" y="270.6" width="11.3" height="5.4" fill="#fff" stroke="#333" stroke-width="1"/>
<text class="lg" transform="translate(564.6 276.1) scale(0.97 1)">NT</text>
<rect x="546" y="282.7" width="12.5" height="6" fill="#000000"/>
<text class="lg" transform="translate(564.6 288.3) scale(0.97 1)">HFD-F</text>
<rect x="546" y="294.9" width="12.5" height="6" fill="#f99a9d"/>
<text class="lg" transform="translate(564.6 300.5) scale(0.97 1)">HFD-F + UDCA</text>
<rect x="546" y="307" width="12.5" height="6" fill="#fdbd7f"/>
<text class="lg" transform="translate(564.6 312.6) scale(0.97 1)">HFD-F + BAR502</text>
<rect x="546" y="319.1" width="12.5" height="6" fill="#80a2d2"/>
<text class="lg" transform="translate(564.6 324.7) scale(0.97 1)">HFD-F + BAR502 + UDCA</text>
</svg>
</body></html>
